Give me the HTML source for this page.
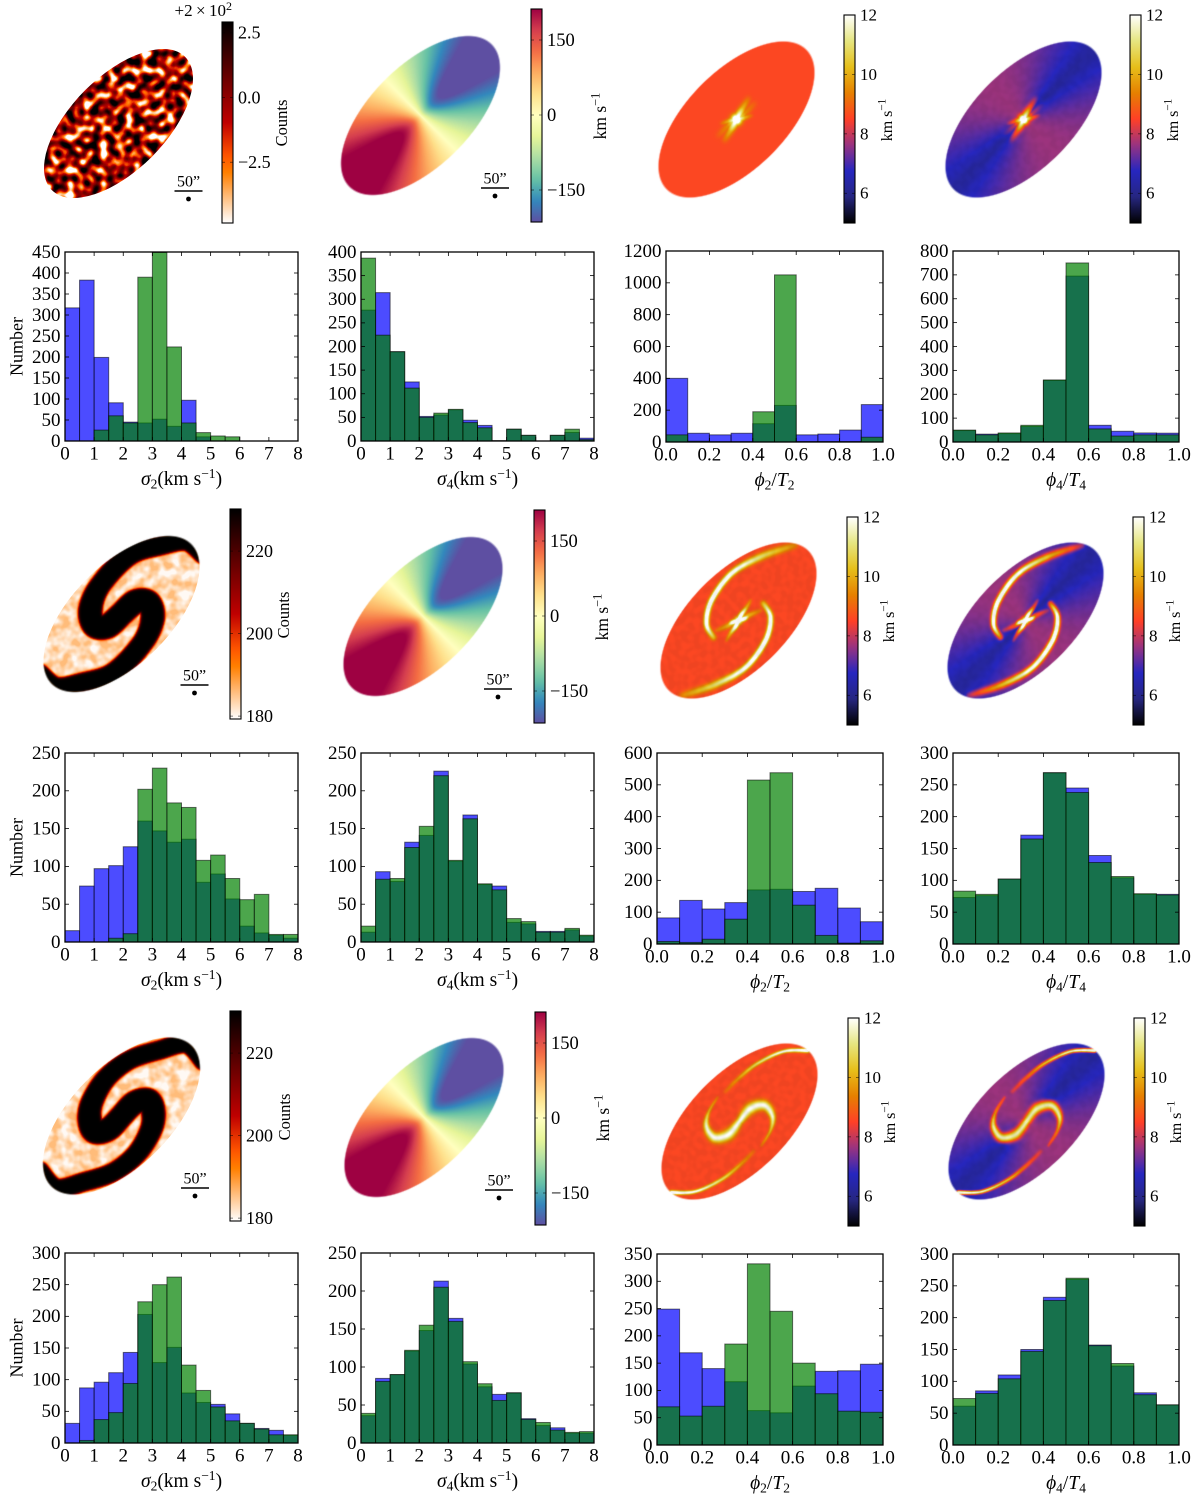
<!DOCTYPE html>
<html>
<head>
<meta charset="utf-8">
<title>Galaxy maps and histograms</title>
<style>
html,body{margin:0;padding:0;background:#fff;}
#figure{position:relative;width:1200px;height:1500px;overflow:hidden;background:#fff;}
#figure canvas{position:absolute;}
#noise-layer{position:absolute;left:0;top:0;mix-blend-mode:multiply;}
#chart-layer{position:absolute;left:0;top:0;}
text{font-family:"Liberation Serif","DejaVu Serif",serif;fill:#000;}
</style>
</head>
<body>
<div id="figure">
<svg id="noise-layer" width="1200" height="1500" xmlns="http://www.w3.org/2000/svg"></svg>
<svg id="chart-layer" width="1200" height="1500" xmlns="http://www.w3.org/2000/svg"></svg>
</div>
<script>
// ---- histogram bin edges and tick labels ----
const sigmaBins = [0,0.5,1,1.5,2,2.5,3,3.5,4,4.5,5,5.5,6,6.5,7,7.5,8];
const phiBins = [0,0.1,0.2,0.3,0.4,0.5,0.6,0.7,0.8,0.9,1];
const sigmaTickLabels = ['0','1','2','3','4','5','6','7','8'];
const phiTickLabels = ['0.0','0.2','0.4','0.6','0.8','1.0'];

// ---- y tick labels ----
const row1Sigma2Ticks = [0,50,100,150,200,250,300,350,400,450];
const row1Sigma4Ticks = [0,50,100,150,200,250,300,350,400];
const row1Phi2Ticks = [0,200,400,600,800,1000,1200];
const row1Phi4Ticks = [0,100,200,300,400,500,600,700,800];
const row2Sigma2Ticks = [0,50,100,150,200,250];
const row2Sigma4Ticks = [0,50,100,150,200,250];
const row2Phi2Ticks = [0,100,200,300,400,500,600];
const row2Phi4Ticks = [0,50,100,150,200,250,300];
const row3Sigma2Ticks = [0,50,100,150,200,250,300];
const row3Sigma4Ticks = [0,50,100,150,200,250];
const row3Phi2Ticks = [0,50,100,150,200,250,300,350];
const row3Phi4Ticks = [0,50,100,150,200,250,300];

// ---- histogram counts ----
const row1Sigma2Blue = [317,383,199,91,45,43,52,35,97,10,0,0,0,0,0,0];
const row1Sigma2Green = [0,0,26,60,43,390,449,224,43,20,12,10,0,0,0,0];
const row1Sigma4Blue = [277,314,189,125,52,55,66,44,33,0,25,12,0,12,18,6];
const row1Sigma4Green = [387,224,189,112,50,59,67,39,28,1,25,12,0,12,25,3];
const row1Phi2Blue = [400,55,45,55,115,230,45,50,75,235];
const row1Phi2Green = [45,5,2,2,190,1050,3,3,3,30];
const row1Phi4Blue = [48,33,35,65,258,695,70,45,38,37];
const row1Phi4Green = [50,30,38,70,260,750,55,25,30,30];

const row2Sigma2Blue = [15,74,97,101,126,160,147,132,136,79,90,57,21,12,9,5];
const row2Sigma2Green = [0,0,0,5,11,202,230,184,178,108,115,84,56,63,10,10];
const row2Sigma4Blue = [13,93,80,132,141,226,107,168,76,74,26,24,14,14,16,8];
const row2Sigma4Green = [21,83,84,125,153,220,108,163,77,69,31,27,13,13,18,9];
const row2Phi2Blue = [82,137,110,130,170,172,165,175,113,70];
const row2Phi2Green = [8,5,15,78,515,538,122,27,3,10];
const row2Phi4Blue = [73,76,102,171,269,245,139,104,78,78];
const row2Phi4Green = [83,78,102,165,269,238,128,106,79,77];

const row3Sigma2Blue = [31,87,96,111,143,203,127,151,79,64,61,46,31,23,20,12];
const row3Sigma2Green = [0,4,37,48,94,223,250,262,123,83,57,35,31,22,13,13];
const row3Sigma4Blue = [36,85,90,121,148,213,164,104,74,64,66,32,23,20,13,13];
const row3Sigma4Green = [39,81,90,122,155,205,160,107,78,56,66,31,27,17,14,15];
const row3Phi2Blue = [249,169,140,116,63,59,108,135,136,148];
const row3Phi2Green = [70,53,71,185,332,245,150,94,62,60];
const row3Phi4Blue = [61,85,110,150,232,260,157,124,82,63];
const row3Phi4Green = [73,81,104,147,227,262,156,128,79,63];

// ---- colour maps ----
const spectralStops = [[94,79,162],[50,136,189],[102,194,165],[171,221,164],[230,245,152],[255,255,191],[254,224,139],[253,174,97],[244,109,67],[213,62,79],[158,1,66]];
const cmrStops = [[0,0,0],[38,38,128],[38,38,191],[153,51,128],[255,64,38],[230,128,0],[230,191,26],[230,230,128],[255,255,255]];

function clamp01(v){return v<0?0:v>1?1:v;}
function sampleStops(stops,t){
  const f=clamp01(t)*(stops.length-1);
  const i=Math.min(Math.floor(f),stops.length-2);
  const k=f-i;
  return [0,1,2].map(c=>stops[i][c]+(stops[i+1][c]-stops[i][c])*k);
}
function spectralMap(t){return sampleStops(spectralStops,t);}
function cmrMap(t){return sampleStops(cmrStops,t);}
function heatMap(t){
  const v=1-clamp01(t);
  return [255*clamp01(1.5*v),255*clamp01(2*v-1),255*clamp01(4*v-3)];
}

// ---- spine / ridge shapes of the spiral features, offsets from the map centre ----
// band spines: [dx, dy, half-width]; ridges: [dx, dy, amplitude, width]
const bandSpineRow2 = [[0,0,12],[14,-12,12.5],[27,-11,12.5],[31,5,12],[21,29,10.5],[-8,59,10.5],[-40,69,10],[-65,73,10],[-82,60,10]];
const bandSpineRow3 = [[0,0,11.5],[13,-13,12],[27,-15,12.5],[32,-2,12],[29,15,11],[15,38,10],[-8,56,9.5],[-38,66,9.5],[-65,72,9.5],[-82,55,9.5]];
const ridgesRow1 = [
  [[0,0,5,2.6],[6,-11,1.6,2.4],[12,-21,0.3,2.2]],
  [[0,0,5,2.6],[8,-2,1.5,1.9],[15,-4,0.3,1.5]],
  [[0,0,4,2.6],[8,-6,1.0,2.4],[18,-16,0.2,2.4]]
];
const ridgesRow2 = [
  [[-25,17,1.6,2],[-32,3,4.4,1.8],[-27,-20,5,1.8],[-7,-47,4,2],[23,-64,2.4,2.5],[56,-75,0.8,2.5]],
  [[0,0,5,2],[-6,2,4.5,1.6],[-11,5,1,1.4],[-20,8,0.4,1.2]],
  [[0,0,5,2],[3,-6,4.5,1.6],[8,-13,1.5,1.5],[12,-20,0.5,1.2]],
  [[0,0,2,2],[10,-5,1.5,2],[22,-10,0.5,1.5]]
];
const ridgesRow3 = [
  [[-14,-30,0.4,1.5],[-1,-43,1.1,1.5],[18,-58,2.4,1.3],[44,-70,3.6,1.2],[68,-71,4.4,1.4]],
  [[0,0,3.4,2.2],[11,-13,3.4,3.5],[25,-16,3.4,3.2],[33,-5,3.2,2],[31,9,1.6,1.2],[22,24,0.5,1]]
];

const DISC_Q = 0.5;
const figure = document.getElementById('figure');
const chart = document.getElementById('chart-layer');
const noiseLayer = document.getElementById('noise-layer');
const NS = 'http://www.w3.org/2000/svg';

function mk(tag,attrs,parent,text){
  const e=document.createElementNS(NS,tag);
  for(const k in attrs){e.setAttribute(k,attrs[k]);}
  if(text!==undefined){e.textContent=text;}
  if(parent){parent.appendChild(e);}
  return e;
}

// dense sampling of a control polyline, mirrored through the map centre
function densify(pts){
  const out=[];
  for(let i=0;i<pts.length-1;i++){
    const p0=pts[Math.max(i-1,0)],p1=pts[i],p2=pts[i+1],p3=pts[Math.min(i+2,pts.length-1)];
    const n=Math.max(2,Math.ceil(Math.hypot(p2[0]-p1[0],p2[1]-p1[1])/0.8));
    for(let j=0;j<n;j++){
      const t=j/n,t2=t*t,t3=t2*t;
      const row=[];
      for(let c=0;c<p1.length;c++){
        if(c<2){
          row.push(0.5*(2*p1[c]+(p2[c]-p0[c])*t+(2*p0[c]-5*p1[c]+4*p2[c]-p3[c])*t2+(3*p1[c]-p0[c]-3*p2[c]+p3[c])*t3));
        }else{
          row.push(p1[c]+(p2[c]-p1[c])*t);
        }
      }
      out.push(row);
    }
  }
  out.push(pts[pts.length-1].slice());
  return out;
}
function mirrored(pts){
  const d=densify(pts);
  return d.concat(d.map(p=>{const q=p.slice();q[0]=-p[0];q[1]=-p[1];return q;}));
}

function discParams(H){
  const a=H*Math.sqrt(2/(1+DISC_Q*DISC_Q));
  return {a:a,b:a*DISC_Q};
}

function paintMap(name,cx,cy,H,pixel){
  const L=Math.floor(cx-H-3),T=Math.floor(cy-H-3),S=Math.ceil(2*H+7);
  const cv=document.createElement('canvas');
  cv.width=S;cv.height=S;
  cv.style.left=L+'px';cv.style.top=T+'px';
  
  
  figure.insertBefore(cv,noiseLayer);
  const ctx=cv.getContext('2d');
  const img=ctx.createImageData(S,S);
  const {a,b}=discParams(H);
  for(let j=0;j<S;j++){
    for(let i=0;i<S;i++){
      const dx=L+i+0.5-cx,dy=T+j+0.5-cy;
      const u=(dx-dy)/Math.SQRT2,w=(dx+dy)/Math.SQRT2;
      const U=u/a,W=w/b,rho=Math.hypot(U,W);
      const al=clamp01((1-rho)*b+0.5);
      if(al<=0){continue;}
      const c=pixel(dx,dy,U,W,rho,a);
      const o=(j*S+i)*4;
      img.data[o]=c[0];img.data[o+1]=c[1];img.data[o+2]=c[2];img.data[o+3]=al*255;
    }
  }
  ctx.putImageData(img,0,0);
}

// ---- map fields ----
const VEL_MIN=-214,VEL_MAX=212;
function velocityPixel(dx,dy,U,W,rho,a){
  const r=rho*a;
  const cosPhi=rho>0?U/rho:0;
  const v=-245*(1-Math.exp(-r/13))*cosPhi;
  return spectralMap((v-VEL_MIN)/(VEL_MAX-VEL_MIN));
}
function ridgeValue(dx,dy,arms){
  let best=0;
  for(const arm of arms){
    for(const p of arm){
      const ex=dx-p[0],ey=dy-p[1];
      const val=p[2]*Math.exp(-(ex*ex+ey*ey)/(2*p[3]*p[3]));
      if(val>best){best=val;}
    }
  }
  return best;
}
function dispPixelFactory(arms,second,spotAmp,spotSize){
  const dense=arms.map(mirrored);
  return function(dx,dy,U,W,rho,a){
    const rad=Math.hypot(dx,dy);
    let r=ridgeValue(dx,dy,dense);
    r=Math.max(r,spotAmp*Math.exp(-rad*rad/(2*spotSize*spotSize)));
    let base=8.6;
    if(second){
      const s=rho>0?Math.abs(W)/rho:0;
      base=6.3+0.4*(1-Math.exp(-(s*s)/(0.25*0.25)))+0.95*Math.pow(s,2.4);
      r=r*(1+(8.6-base)/4.5);
    }
    return cmrMap((base+r-5)/7);
  };
}
function bandPixelFactory(spine){
  const pts=mirrored(spine);
  return function(dx,dy){
    let d=1e9;
    for(const p of pts){
      const val=Math.hypot(dx-p[0],dy-p[1])-p[2];
      if(val<d){d=val;}
    }
    const s=1/(1+Math.exp(d/0.7));
    return heatMap(s);
  };
}

// ---- noise textures (declarative turbulence filters) ----
const defs=mk('defs',{},noiseLayer);
function makeNoiseFilter(id,freq,seed,toColor,octaves){
  const f=mk('filter',{id:id,x:'0',y:'0',width:'100%',height:'100%','color-interpolation-filters':'sRGB'},defs);
  mk('feTurbulence',{type:'fractalNoise',baseFrequency:freq,numOctaves:octaves,seed:seed},f);
  mk('feColorMatrix',{type:'matrix',values:'1 0 0 0 0 1 0 0 0 0 1 0 0 0 0 0 0 0 0 1'},f);
  const tr=mk('feComponentTransfer',{},f);
  const tabs=[[],[],[]];
  for(let i=0;i<=48;i++){
    const col=toColor(i/48);
    for(let c=0;c<3;c++){tabs[c].push((col[c]/255).toFixed(3));}
  }
  mk('feFuncR',{type:'table',tableValues:tabs[0].join(' ')},tr);
  mk('feFuncG',{type:'table',tableValues:tabs[1].join(' ')},tr);
  mk('feFuncB',{type:'table',tableValues:tabs[2].join(' ')},tr);
}
makeNoiseFilter('noise-strong','0.12',11,n=>heatMap(clamp01((n-0.3)/0.36)),1);
makeNoiseFilter('noise-pale-a','0.1',5,n=>heatMap(0.01+clamp01((n-0.3)/0.4)*0.12),2);
makeNoiseFilter('noise-pale-b','0.1',23,n=>heatMap(0.01+clamp01((n-0.3)/0.4)*0.12),2);
makeNoiseFilter('noise-mottle','0.16',41,n=>{const g=255*(0.95+0.05*clamp01((n-0.35)/0.3));return [g,g,g];},1);

function noisePatch(name,cx,cy,H,filterId){
  const {a,b}=discParams(H);
  const clipId='clip-'+name;
  const cp=mk('clipPath',{id:clipId},defs);
  mk('ellipse',{cx:cx,cy:cy,rx:a,ry:b,transform:'rotate(-45 '+cx+' '+cy+')'},cp);
  const g=mk('g',{'clip-path':'url(#'+clipId+')'},noiseLayer);
  
  
  mk('rect',{x:cx-H-4,y:cy-H-4,width:2*H+8,height:2*H+8,filter:'url(#'+filterId+')'},g);
}

noisePatch('row1-counts-map',118.5,123.5,74.5,'noise-strong');

paintMap('row2-counts-band',121.5,614,78,bandPixelFactory(bandSpineRow2));
noisePatch('row2-counts-texture',121.5,614,78,'noise-pale-a');
paintMap('row3-counts-band',121.5,1116,78.5,bandPixelFactory(bandSpineRow3));
noisePatch('row3-counts-texture',121.5,1116,78.5,'noise-pale-b');

paintMap('row1-velocity-map',420.5,115.5,79.5,velocityPixel);
paintMap('row2-velocity-map',423,616.5,79.5,velocityPixel);
paintMap('row3-velocity-map',424,1117.5,79.5,velocityPixel);

paintMap('row1-sigma2-map',736.5,119.5,78,dispPixelFactory(ridgesRow1,false,6,3.4));
paintMap('row1-sigma4-map',1023.5,119.5,78,dispPixelFactory(ridgesRow1,true,6,3.2));
paintMap('row2-sigma2-map',738.5,620.5,78,dispPixelFactory(ridgesRow2,false,5,2.5));
paintMap('row2-sigma4-map',1025.5,620.5,78,dispPixelFactory(ridgesRow2,true,5,2.5));
paintMap('row3-sigma2-map',739.5,1121.5,78,dispPixelFactory(ridgesRow3,false,3.4,2));
paintMap('row3-sigma4-map',1026.5,1121.5,78,dispPixelFactory(ridgesRow3,true,3.4,2));

const mottleTargets=[[1023.5,119.5],[738.5,620.5],[1025.5,620.5],[739.5,1121.5],[1026.5,1121.5]];
mottleTargets.forEach((p,i)=>noisePatch('dispersion-mottle-'+i,p[0],p[1],78,'noise-mottle'));

// ---- colour bars ----
let gradCount=0;
const chartDefs=mk('defs',{},chart);
function drawColorbar(cfg){
  const g=mk('g',{},chart);
  
  
  const id='grad'+(gradCount++);
  const lg=mk('linearGradient',{id:id,x1:'0',y1:'1',x2:'0',y2:'0'},chartDefs);
  for(let i=0;i<=32;i++){
    const c=cfg.map(i/32).map(Math.round);
    mk('stop',{offset:(i/32),'stop-color':'rgb('+c.join(',')+')'},lg);
  }
  const yOf=v=>cfg.y1-(v-cfg.vMin)/(cfg.vMax-cfg.vMin)*(cfg.y1-cfg.y0);
  const body=mk('rect',{x:cfg.x0,y:cfg.y0,width:cfg.x1-cfg.x0,height:cfg.y1-cfg.y0,fill:'url(#'+id+')',stroke:'#000','stroke-width':1.1},g);
  
  
  cfg.ticks.forEach((v,i)=>{
    const y=yOf(v);
    mk('line',{x1:cfg.x0,x2:cfg.x0+3,y1:y,y2:y,stroke:'#000','stroke-width':0.7,'stroke-opacity':0.7},g);
    mk('line',{x1:cfg.x1-3,x2:cfg.x1,y1:y,y2:y,stroke:'#000','stroke-width':0.7,'stroke-opacity':0.7},g);
    const t=mk('text',{x:cfg.x1+5,y:y+0.32*cfg.fs,'font-size':cfg.fs},g,cfg.labels[i]);
    
    
  });
  const lx=cfg.labelX,ly=cfg.labelY;
  const lab=mk('text',{x:lx,y:ly,'font-size':cfg.labelFs,'text-anchor':'middle',transform:'rotate(-90 '+lx+' '+ly+')'},g);
  
  
  if(cfg.unit==='counts'){
    lab.textContent='Counts';
  }else{
    mk('tspan',{},lab,'km s');
    mk('tspan',{dy:-6.5,'font-size':cfg.labelFs*0.7},lab,'\u22121');
  }
}

const countsLabels1=['\u22122.5','0.0','2.5'];
const countsTicks1=[-2.5,0,2.5];
const countsLabels=['180','200','220'];
const countsTicks=[180,200,220];
const velLabels=['\u2212150','0','150'];
const velTicks=[-150,0,150];
const dispLabels=['6','8','10','12'];
const dispTicks=[6,8,10,12];

const colorbars=[
 {name:'row1-counts-colorbar',x0:222,x1:233,y0:22,y1:223,vMin:-4.85,vMax:2.92,map:heatMap,ticks:countsTicks1,labels:countsLabels1,fs:18,labelX:287,labelY:123,labelFs:16.5,unit:'counts'},
 {name:'row1-velocity-colorbar',x0:531,x1:542,y0:9,y1:222,vMin:VEL_MIN,vMax:VEL_MAX,map:spectralMap,ticks:velTicks,labels:velLabels,fs:18.5,labelX:606,labelY:116,labelFs:17.5,unit:'kms'},
 {name:'row1-sigma2-colorbar',x0:844,x1:855,y0:15,y1:223,vMin:5,vMax:12,map:cmrMap,ticks:dispTicks,labels:dispLabels,fs:17,labelX:892,labelY:120,labelFs:16,unit:'kms'},
 {name:'row1-sigma4-colorbar',x0:1130,x1:1141,y0:15,y1:223,vMin:5,vMax:12,map:cmrMap,ticks:dispTicks,labels:dispLabels,fs:17,labelX:1178,labelY:120,labelFs:16,unit:'kms'},
 {name:'row2-counts-colorbar',x0:230,x1:241,y0:509,y1:719,vMin:179.3,vMax:230.2,map:heatMap,ticks:countsTicks,labels:countsLabels,fs:18,labelX:289,labelY:615,labelFs:16.5,unit:'counts'},
 {name:'row2-velocity-colorbar',x0:534,x1:545,y0:510,y1:723,vMin:VEL_MIN,vMax:VEL_MAX,map:spectralMap,ticks:velTicks,labels:velLabels,fs:18.5,labelX:608,labelY:617,labelFs:17.5,unit:'kms'},
 {name:'row2-sigma2-colorbar',x0:847,x1:858,y0:517,y1:725,vMin:5,vMax:12,map:cmrMap,ticks:dispTicks,labels:dispLabels,fs:17,labelX:894,labelY:621,labelFs:16,unit:'kms'},
 {name:'row2-sigma4-colorbar',x0:1133,x1:1144,y0:517,y1:725,vMin:5,vMax:12,map:cmrMap,ticks:dispTicks,labels:dispLabels,fs:17,labelX:1180,labelY:621,labelFs:16,unit:'kms'},
 {name:'row3-counts-colorbar',x0:230,x1:241,y0:1011,y1:1221,vMin:179.3,vMax:230.2,map:heatMap,ticks:countsTicks,labels:countsLabels,fs:18,labelX:290,labelY:1117,labelFs:16.5,unit:'counts'},
 {name:'row3-velocity-colorbar',x0:535,x1:546,y0:1012,y1:1225,vMin:VEL_MIN,vMax:VEL_MAX,map:spectralMap,ticks:velTicks,labels:velLabels,fs:18.5,labelX:609,labelY:1118,labelFs:17.5,unit:'kms'},
 {name:'row3-sigma2-colorbar',x0:848,x1:859,y0:1018,y1:1226,vMin:5,vMax:12,map:cmrMap,ticks:dispTicks,labels:dispLabels,fs:17,labelX:895,labelY:1122,labelFs:16,unit:'kms'},
 {name:'row3-sigma4-colorbar',x0:1134,x1:1145,y0:1018,y1:1226,vMin:5,vMax:12,map:cmrMap,ticks:dispTicks,labels:dispLabels,fs:17,labelX:1181,labelY:1122,labelFs:16,unit:'kms'}
];
colorbars.forEach(drawColorbar);

// offset text on the first colour bar
const offsetText=mk('text',{x:232,y:16,'font-size':17,'text-anchor':'end'},chart);


mk('tspan',{},offsetText,'+2\u2009\u00d7\u200910');
mk('tspan',{dy:-6,'font-size':12},offsetText,'2');

// ---- 50 arcsec scale bars and beam dots ----
function drawScaleBar(xc,y){
  const g=mk('g',{},chart);
  
  
  mk('line',{x1:xc-14,x2:xc+14,y1:y,y2:y,stroke:'#000','stroke-width':1.4},g);
  const t=mk('text',{x:xc,y:y-4.5,'font-size':16,'text-anchor':'middle'},g,'50\u201d');
  
  
  const d=mk('circle',{cx:xc,cy:y+8,r:2.4,fill:'#000'},g);
  
  
}
const scaleBarAnchors=[[188.5,191],[495,188],[194.5,685],[498,689],[195,1188],[499,1190]];
scaleBarAnchors.forEach(p=>drawScaleBar(p[0],p[1]));

// ---- histograms ----
function drawBars(g,bins,vals,fill,xs,ys,label){
  vals.forEach((v,i)=>{
    const x0=xs(bins[i]),x1=xs(bins[i+1]),y=ys(v),yb=ys(0);
    const r=mk('rect',{x:x0,y:y,width:x1-x0,height:Math.max(0,yb-y),fill:fill,'fill-opacity':0.7,stroke:'#000','stroke-opacity':0.55,'stroke-width':1},g);
    
    
  });
}
function axisLabel(parent,x,y,kind){
  const t=mk('text',{x:x,y:y,'font-size':19.5,'text-anchor':'middle'},parent);
  
  
  if(kind==='s2'||kind==='s4'){
    mk('tspan',{'font-style':'italic'},t,'\u03c3');
    mk('tspan',{dy:3.5,'font-size':13.5},t,kind==='s2'?'2':'4');
    mk('tspan',{dy:-3.5},t,'(km s');
    mk('tspan',{dy:-7,'font-size':13.5},t,'\u22121');
    mk('tspan',{dy:7},t,')');
  }else{
    const n=kind==='p2'?'2':'4';
    mk('tspan',{'font-style':'italic'},t,'\u03d5');
    mk('tspan',{dy:3.5,'font-size':13.5},t,n);
    mk('tspan',{dy:-3.5},t,'/');
    mk('tspan',{'font-style':'italic'},t,'T');
    mk('tspan',{dy:3.5,'font-size':13.5},t,n);
  }
}
function drawHistogram(h){
  const g=mk('g',{},chart);
  
  
  const xMin=h.bins[0],xMax=h.bins[h.bins.length-1],yMax=h.yTicks[h.yTicks.length-1];
  const xs=v=>h.x0+(v-xMin)/(xMax-xMin)*(h.x1-h.x0);
  const ys=v=>h.y1-v/yMax*(h.y1-h.y0);
  drawBars(g,h.bins,h.blue,'#0000ff',xs,ys,'blue');
  drawBars(g,h.bins,h.green,'#008000',xs,ys,'green');
  const tk={stroke:'#000','stroke-width':0.8};
  h.xTicks.forEach(lbl=>{
    const v=parseFloat(lbl),x=xs(v);
    mk('line',Object.assign({x1:x,x2:x,y1:h.y1,y2:h.y1-4},tk),g);
    mk('line',Object.assign({x1:x,x2:x,y1:h.y0,y2:h.y0+4},tk),g);
    const t=mk('text',{x:x,y:h.y1+18.5,'font-size':19,'text-anchor':'middle'},g,lbl);
    
    
  });
  h.yTicks.forEach(v=>{
    const y=ys(v);
    mk('line',Object.assign({x1:h.x0,x2:h.x0+4,y1:y,y2:y},tk),g);
    mk('line',Object.assign({x1:h.x1-4,x2:h.x1,y1:y,y2:y},tk),g);
    const t=mk('text',{x:h.x0-4.5,y:y+5.8,'font-size':19,'text-anchor':'end'},g,String(v));
    
    
  });
  const frame=mk('rect',{x:h.x0,y:h.y0,width:h.x1-h.x0,height:h.y1-h.y0,fill:'none',stroke:'#000','stroke-width':1.3},g);
  
  
  axisLabel(g,(h.x0+h.x1)/2,h.y1+44,h.kind);
  if(h.number){
    const my=(h.y0+h.y1)/2;
    const n=mk('text',{x:22.5,y:my,'font-size':18,'text-anchor':'middle',transform:'rotate(-90 22.5 '+my+')'},g,'Number');
    
    
  }
}

const histograms=[
 {name:'row1-sigma2-histogram',x0:65,x1:298,y0:252,y1:441,bins:sigmaBins,xTicks:sigmaTickLabels,yTicks:row1Sigma2Ticks,blue:row1Sigma2Blue,green:row1Sigma2Green,kind:'s2',number:true},
 {name:'row1-sigma4-histogram',x0:361,x1:594,y0:252,y1:441,bins:sigmaBins,xTicks:sigmaTickLabels,yTicks:row1Sigma4Ticks,blue:row1Sigma4Blue,green:row1Sigma4Green,kind:'s4'},
 {name:'row1-phi2-histogram',x0:666,x1:883,y0:251,y1:442,bins:phiBins,xTicks:phiTickLabels,yTicks:row1Phi2Ticks,blue:row1Phi2Blue,green:row1Phi2Green,kind:'p2'},
 {name:'row1-phi4-histogram',x0:953,x1:1179,y0:251,y1:442,bins:phiBins,xTicks:phiTickLabels,yTicks:row1Phi4Ticks,blue:row1Phi4Blue,green:row1Phi4Green,kind:'p4'},
 {name:'row2-sigma2-histogram',x0:65,x1:298,y0:753,y1:942,bins:sigmaBins,xTicks:sigmaTickLabels,yTicks:row2Sigma2Ticks,blue:row2Sigma2Blue,green:row2Sigma2Green,kind:'s2',number:true},
 {name:'row2-sigma4-histogram',x0:361,x1:594,y0:753,y1:942,bins:sigmaBins,xTicks:sigmaTickLabels,yTicks:row2Sigma4Ticks,blue:row2Sigma4Blue,green:row2Sigma4Green,kind:'s4'},
 {name:'row2-phi2-histogram',x0:657,x1:883,y0:753,y1:944,bins:phiBins,xTicks:phiTickLabels,yTicks:row2Phi2Ticks,blue:row2Phi2Blue,green:row2Phi2Green,kind:'p2'},
 {name:'row2-phi4-histogram',x0:953,x1:1179,y0:753,y1:944,bins:phiBins,xTicks:phiTickLabels,yTicks:row2Phi4Ticks,blue:row2Phi4Blue,green:row2Phi4Green,kind:'p4'},
 {name:'row3-sigma2-histogram',x0:65,x1:298,y0:1253,y1:1443,bins:sigmaBins,xTicks:sigmaTickLabels,yTicks:row3Sigma2Ticks,blue:row3Sigma2Blue,green:row3Sigma2Green,kind:'s2',number:true},
 {name:'row3-sigma4-histogram',x0:361,x1:594,y0:1253,y1:1443,bins:sigmaBins,xTicks:sigmaTickLabels,yTicks:row3Sigma4Ticks,blue:row3Sigma4Blue,green:row3Sigma4Green,kind:'s4'},
 {name:'row3-phi2-histogram',x0:657,x1:883,y0:1254,y1:1445,bins:phiBins,xTicks:phiTickLabels,yTicks:row3Phi2Ticks,blue:row3Phi2Blue,green:row3Phi2Green,kind:'p2'},
 {name:'row3-phi4-histogram',x0:953,x1:1179,y0:1254,y1:1445,bins:phiBins,xTicks:phiTickLabels,yTicks:row3Phi4Ticks,blue:row3Phi4Blue,green:row3Phi4Green,kind:'p4'}
];
histograms.forEach(drawHistogram);
</script>
</body>
</html>
